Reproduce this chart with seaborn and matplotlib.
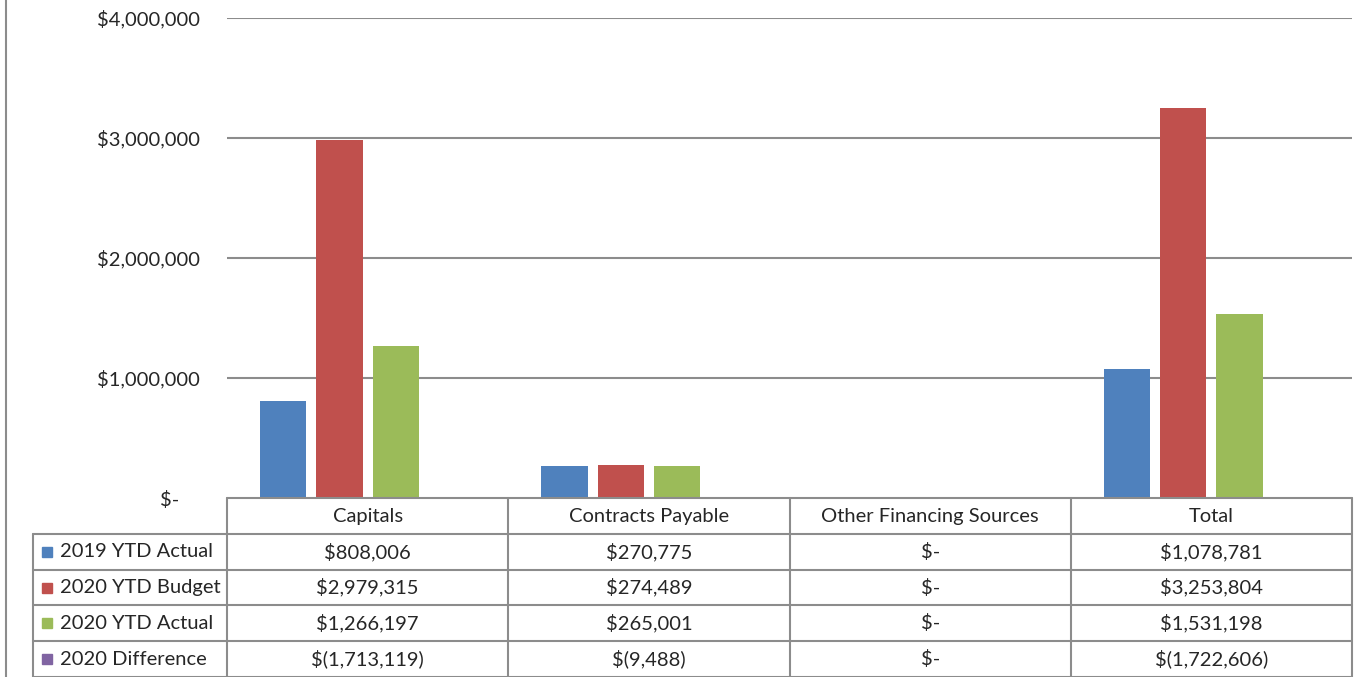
import seaborn as sns
import matplotlib.pyplot as plt
import pandas as pd
from matplotlib.lines import Line2D

categories = ["Capitals", "Contracts Payable", "Other Financing Sources", "Total"]
series_names = ["2019 YTD Actual", "2020 YTD Budget", "2020 YTD Actual", "2020 Difference"]
actual_2019 = [808006, 270775, 0, 1078781]
budget_2020 = [2979315, 274489, 0, 3253804]
actual_2020 = [1266197, 265001, 0, 1531198]
difference_2020 = [-1713119, -9488, 0, -1722606]
y_ticks = [0, 1000000, 2000000, 3000000, 4000000]

colors = ["#4F81BD", "#C0504D", "#9BBB59", "#8064A2"]
grid_col = "#8C8C8C"
text_col = "#262626"

sns.set_style("white")
plt.rcParams['font.family'] = ['Lato', 'DejaVu Sans']


def money(v):
    if v == 0:
        return "$-"
    if v < 0:
        return "$({:,})".format(-v)
    return "${:,}".format(v)


rows = [actual_2019, budget_2020, actual_2020, difference_2020]
df = pd.DataFrame({
    "category": [c for r in rows for c in categories],
    "series": [s for s, r in zip(series_names, rows) for _ in categories],
    "value": [v for r in rows for v in r],
})

W, H = 1356, 677
fig = plt.figure(figsize=(W / 100, H / 100), dpi=100)
left, right, top, base = 227, 1352, 18, 498
ax = fig.add_axes([left / W, (H - base) / H, (right - left) / W, (base - top) / H])

sns.barplot(data=df, x="category", y="value", hue="series", hue_order=series_names,
            order=categories, palette=colors, saturation=1, width=0.8, gap=0.18,
            linewidth=0, legend=False, ax=ax, zorder=3)

ax.set_ylim(0, 4000000)
ax.set_xlim(-0.5, 3.5)
ax.set_yticks(y_ticks)
ax.set_yticklabels([money(v) + ("    " if v == 0 else "") for v in y_ticks],
                   fontsize=14.5, color=text_col)
ax.tick_params(axis='y', length=0, pad=19.5)
ax.set_xticks([])
ax.set_xlabel("")
ax.set_ylabel("")
for s in ax.spines.values():
    s.set_visible(False)
for t in y_ticks[1:]:
    ax.axhline(t, color=grid_col, lw=1.5, zorder=1)

# data table below the plot, columns aligned with the categories
tab = fig.add_axes([left / W, 0, (right - left) / W, (H - base) / H])
tab.set_xlim(-0.5, 3.5)
tab.set_ylim(5, 0)
tab.axis('off')
cat_w = (right - left) / 4
lab_left = -0.5 - (left - 33) / cat_w
lk = dict(color=grid_col, lw=1.5, clip_on=False)

tab.plot([-0.5, 3.5], [0, 0], **lk)
for r in range(1, 6):
    tab.plot([lab_left, 3.5], [r, r], **lk)
for i in range(5):
    tab.plot([i - 0.5, i - 0.5], [0, 5], **lk)
tab.plot([lab_left, lab_left], [1, 5], **lk)

for i, c in enumerate(categories):
    tab.text(i, 0.52, c, ha='center', va='center', fontsize=14.5, color=text_col)
for r, (name, vals, col) in enumerate(zip(series_names, rows, colors), start=1):
    tab.plot([lab_left + 0.05], [r + 0.5], marker='s', ms=7.5, color=col,
             clip_on=False, linestyle='none')
    tab.text(lab_left + 0.095, r + 0.5, name, ha='left', va='center',
             fontsize=14.5, color=text_col)
    for i, v in enumerate(vals):
        tab.text(i, r + 0.5, money(v), ha='center', va='center',
                 fontsize=14.5, color=text_col)

# outer chart border on the left edge
fig.add_artist(Line2D([6 / W, 6 / W], [0, 1], color=grid_col, lw=1.5))

fig.savefig("out.png", dpi=100)
